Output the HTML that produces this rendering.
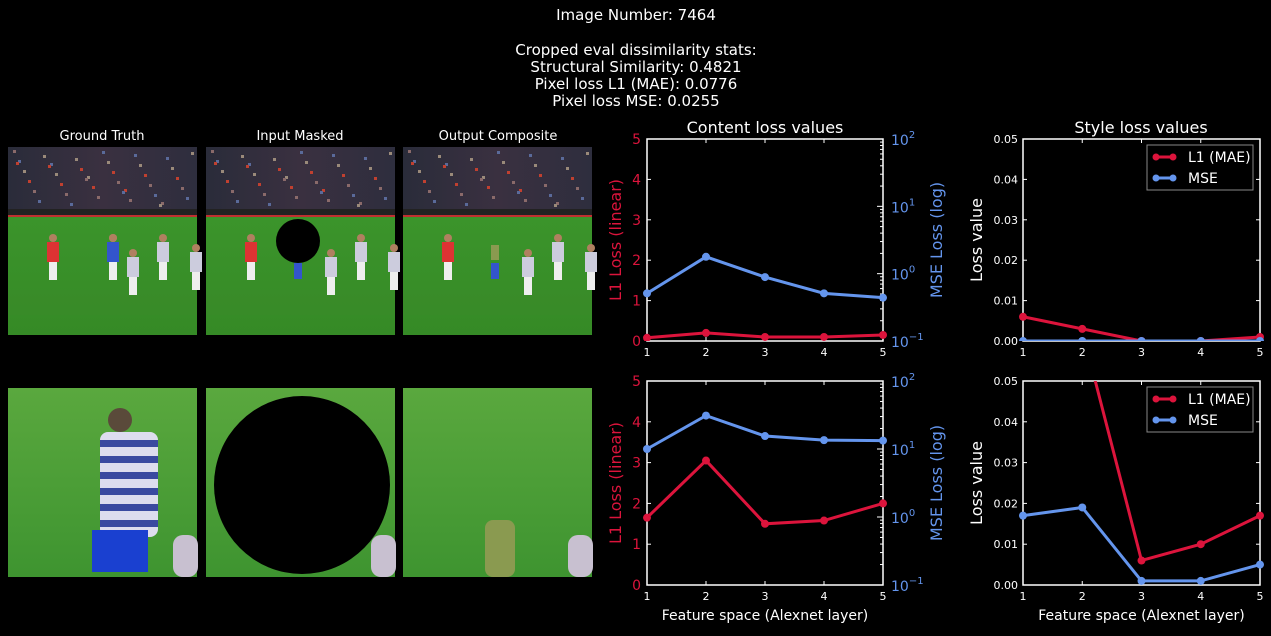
<!DOCTYPE html>
<html><head><meta charset="utf-8"><style>
body{margin:0;background:#000;width:1271px;height:631px;overflow:hidden;font-family:"Liberation Sans","DejaVu Sans",sans-serif}
svg text{font-family:"DejaVu Sans","Liberation Sans",sans-serif}
</style></head><body>
<svg id="fig" width="1271" height="631">
<defs>
<linearGradient id="field" x1="0" y1="0" x2="0" y2="1"><stop offset="0" stop-color="#3f9a2e"/><stop offset="1" stop-color="#358a26"/></linearGradient>
<linearGradient id="crowd" x1="0" y1="0" x2="1" y2="0"><stop offset="0" stop-color="#2a2c3a"/><stop offset="0.5" stop-color="#3a3040"/><stop offset="1" stop-color="#2e2e3e"/></linearGradient>
<linearGradient id="grass2" x1="0" y1="0" x2="0" y2="1"><stop offset="0" stop-color="#5aa83e"/><stop offset="1" stop-color="#3e9430"/></linearGradient>
</defs>
<g fill="#fff" font-size="15" text-anchor="middle">
<text x="636" y="20">Image Number: 7464</text>
<text x="636" y="55">Cropped eval dissimilarity stats:</text>
<text x="636" y="72">Structural Similarity: 0.4821</text>
<text x="636" y="89">Pixel loss L1 (MAE): 0.0776</text>
<text x="636" y="106">Pixel loss MSE: 0.0255</text>
</g>
<g fill="#fff" font-size="13" text-anchor="middle">
<text x="102" y="140">Ground Truth</text>
<text x="300" y="140">Input Masked</text>
<text x="498" y="140">Output Composite</text>
</g>
<g id="photos"></g>
<g id="charts"></g>
</svg>
<script>
// ---- chart data ----
const layers=[1,2,3,4,5];
const contentTopL1=[0.08,0.2,0.1,0.1,0.15];
const contentTopMSE=[0.51,1.78,0.89,0.51,0.44];
const contentBotL1=[1.65,3.05,1.5,1.58,2.0];
const contentBotMSE=[10,31,15.5,13.5,13.3];
const styleTopL1=[0.006,0.003,0.0,0.0,0.001];
const styleTopMSE=[0.0,0.0,0.0,0.0,0.0];
const styleBotL1=[0.09,0.0624,0.006,0.01,0.017];
const styleBotMSE=[0.017,0.019,0.001,0.001,0.005];
const l1Ticks=[0,1,2,3,4,5];
const logTicks=[-1,0,1,2];
const styleTicks=[0,0.01,0.02,0.03,0.04,0.05];
const legendLabels=["L1 (MAE)","MSE"];

const NS="http://www.w3.org/2000/svg";
function mk(tag,attrs,parent,txt){const e=document.createElementNS(NS,tag);for(const k in attrs)e.setAttribute(k,attrs[k]);if(txt!==undefined)e.textContent=txt;parent.appendChild(e);return e;}
const RED="#dc143c",BLUE="#6495ed";

// ---- photos ----
const photos=document.getElementById('photos');
const cols=[8,206,403];
function topPhoto(x,kind){
  const g=mk('g',{},photos);
  
  
  mk('rect',{x:x,y:147,width:189,height:188,fill:'url(#field)'},g);
  mk('rect',{x:x,y:147,width:189,height:62,fill:'url(#crowd)'},g);
  for(let i=0;i<40;i++){mk('rect',{x:x+5+(i*37)%180,y:150+(i*13)%55,width:3,height:3,fill:['#8a6a6a','#5a6a9a','#9a8a7a','#c04030'][i%4]},g);}
  mk('rect',{x:x,y:209,width:189,height:7,fill:'#222'},g);
  mk('rect',{x:x,y:215,width:189,height:2,fill:'#c03030'},g);
  mk('rect',{x:x,y:290,width:189,height:25,fill:'#3a8a2a',opacity:0.6},g);
  const pl=[[45,'#d33',0],[105,'#35c',0],[155,'#ccd',0],[125,'#ccd',15],[188,'#ccd',10]];
  pl.forEach(p=>{if(kind!=='gt'&&p[0]===105)return;const o=p[2];mk('circle',{cx:x+p[0],cy:238+o,r:4,fill:'#b08060'},g);mk('rect',{x:x+p[0]-6,y:242+o,width:12,height:20,fill:p[1]},g);mk('rect',{x:x+p[0]-4,y:262+o,width:8,height:18,fill:'#eee'},g);});
  if(kind==='gt'){mk('circle',{cx:x+105,cy:238,r:4,fill:'#b08060'},g);}
  if(kind==='in'){mk('ellipse',{cx:x+92,cy:241,rx:22,ry:22,fill:'#000'},g);mk('rect',{x:x+88,y:263,width:8,height:16,fill:'#35c'},g);}
  if(kind==='out'){mk('rect',{x:x+88,y:245,width:8,height:15,fill:'#8a9a50'},g);mk('rect',{x:x+88,y:263,width:8,height:16,fill:'#35c'},g);}
}
function botPhoto(x,kind){
  const g=mk('g',{},photos);
  
  
  mk('rect',{x:x,y:388,width:189,height:189,fill:'url(#grass2)'},g);
  mk('rect',{x:x+190-25,y:535,width:25,height:42,fill:'#c8c0d0',rx:10},g);
  if(kind==='gt'){
    mk('rect',{x:x+92,y:432,width:58,height:105,fill:'#dde',rx:8},g);
    for(let i=0;i<6;i++)mk('rect',{x:x+92,y:440+i*16,width:58,height:7,fill:'#3a4aa0'},g);
    mk('rect',{x:x+84,y:530,width:56,height:42,fill:'#1a40d0'},g);
    mk('circle',{cx:x+112,cy:420,r:12,fill:'#5a4a3a'},g);
  }
  if(kind==='in'){mk('ellipse',{cx:302,cy:485,rx:88,ry:89,fill:'#000'},g);}
  if(kind==='out'){mk('rect',{x:x+82,y:520,width:30,height:57,fill:'#8a9a50',rx:8},g);}
}
topPhoto(cols[0],'gt');topPhoto(cols[1],'in');topPhoto(cols[2],'out');
botPhoto(cols[0],'gt');botPhoto(cols[1],'in');botPhoto(cols[2],'out');

// ---- charts ----
const charts=document.getElementById('charts');
function xScale(L,R){return v=>L+(v-1)/(4)*(R-L);}
function series(g,xs,ys,vals,color,name,clipId){
  const pts=vals.map((v,i)=>xs(layers[i])+','+ys(v)).join(' ');
  const pl=mk('polyline',{points:pts,fill:'none',stroke:color,'stroke-width':3,'clip-path':'url(#'+clipId+')'},g);
  
  
  vals.forEach((v,i)=>{const c=mk('circle',{cx:xs(layers[i]),cy:ys(v),r:4,fill:color,'clip-path':'url(#'+clipId+')'},g);
    
    });
}
function frame(g,L,R,T,B,id){
  const cp=mk('clipPath',{id:id},g);mk('rect',{x:L-5,y:T,width:R-L+10,height:B-T},cp);
  const f=mk('rect',{x:L,y:T,width:R-L,height:B-T,fill:'none',stroke:'#fff','stroke-width':1.5},g);
  
  
  const xs=xScale(L,R);
  layers.forEach(l=>{mk('line',{x1:xs(l),x2:xs(l),y1:B,y2:B-4,stroke:'#fff'},g);mk('line',{x1:xs(l),x2:xs(l),y1:T,y2:T+4,stroke:'#fff'},g);
    const t=mk('text',{x:xs(l),y:B+15,fill:'#fff','font-size':11,'text-anchor':'middle'},g,String(l));
    
    });
  return xs;
}
function contentChart(T,B,l1,mse,idx,showX){
  const L=647,R=883;
  const g=mk('g',{},charts);
  
  
  const xs=frame(g,L,R,T,B,'cc'+idx);
  const yL=v=>B-v/5*(B-T);
  const yR=v=>B-(Math.log10(v)+1)/3*(B-T);
  l1Ticks.forEach(t=>{mk('line',{x1:L,x2:L+4,y1:yL(t),y2:yL(t),stroke:'#fff'},g);
    const e=mk('text',{x:L-6,y:yL(t)+5,fill:RED,'font-size':14,'text-anchor':'end'},g,String(t));
    
    });
  logTicks.forEach(t=>{const y=yR(Math.pow(10,t));mk('line',{x1:R,x2:R-6,y1:y,y2:y,stroke:'#fff'},g);
    const e=mk('text',{x:R+8,y:y+6,fill:BLUE,'font-size':14},g);
    
    
    e.innerHTML='10<tspan dy="-7" font-size="10">'+(t<0?'\u22121':t)+'</tspan>';
    if(t<2)for(let m=2;m<10;m++){const ym=yR(m*Math.pow(10,t));mk('line',{x1:R,x2:R-3,y1:ym,y2:ym,stroke:'#fff'},g);}
  });
  const yl=mk('text',{x:0,y:0,fill:RED,'font-size':16,'text-anchor':'middle',transform:`translate(621,${(T+B)/2}) rotate(-90)`},g,'L1 Loss (linear)');
  
  
  const yr=mk('text',{x:0,y:0,fill:BLUE,'font-size':16,'text-anchor':'middle',transform:`translate(942,${(T+B)/2}) rotate(-90)`},g,'MSE Loss (log)');
  
  
  series(g,xs,yL,l1,RED,'l1-series','cc'+idx);
  series(g,xs,yR,mse,BLUE,'mse-series','cc'+idx);
  if(showX){const xt=mk('text',{x:(L+R)/2,y:B+35,fill:'#fff','font-size':14,'text-anchor':'middle'},g,'Feature space (Alexnet layer)');
    
    }
}
function styleChart(T,B,l1,mse,idx,showX){
  const L=1023,R=1260;
  const g=mk('g',{},charts);
  
  
  const xs=frame(g,L,R,T,B,'sc'+idx);
  const y=v=>B-v/0.05*(B-T);
  styleTicks.forEach(t=>{mk('line',{x1:L,x2:L+4,y1:y(t),y2:y(t),stroke:'#fff'},g);mk('line',{x1:R,x2:R-4,y1:y(t),y2:y(t),stroke:'#fff'},g);
    const e=mk('text',{x:L-5,y:y(t)+4,fill:'#fff','font-size':11,'text-anchor':'end'},g,t.toFixed(2));
    
    });
  const yl=mk('text',{x:0,y:0,fill:'#fff','font-size':16,'text-anchor':'middle',transform:`translate(982,${(T+B)/2}) rotate(-90)`},g,'Loss value');
  
  
  series(g,xs,y,l1,RED,'l1-series','sc'+idx);
  series(g,xs,y,mse,BLUE,'mse-series','sc'+idx);
  const lg=mk('g',{},g);
  
  
  mk('rect',{x:1147,y:T+6,width:106,height:45,fill:'#000',stroke:'#888'},lg);
  [RED,BLUE].forEach((c,i)=>{const yy=T+18+i*21;
    mk('line',{x1:1154,x2:1175,y1:yy,y2:yy,stroke:c,'stroke-width':3},lg);
    mk('circle',{cx:1156,cy:yy,r:3.5,fill:c},lg);mk('circle',{cx:1173,cy:yy,r:3.5,fill:c},lg);
    const t=mk('text',{x:1188,y:yy+5,fill:'#fff','font-size':14},lg,legendLabels[i]);
    
    });
  if(showX){const xt=mk('text',{x:(L+R)/2,y:B+35,fill:'#fff','font-size':14,'text-anchor':'middle'},g,'Feature space (Alexnet layer)');
    
    }
}
const ct=mk('text',{x:765,y:133,fill:'#fff','font-size':16,'text-anchor':'middle'},charts,'Content loss values');


const st=mk('text',{x:1141,y:133,fill:'#fff','font-size':16,'text-anchor':'middle'},charts,'Style loss values');


contentChart(139,341,contentTopL1,contentTopMSE,1,false);
contentChart(381,585,contentBotL1,contentBotMSE,2,true);
styleChart(139,341,styleTopL1,styleTopMSE,1,false);
styleChart(381,585,styleBotL1,styleBotMSE,2,true);
</script>
</body></html>
